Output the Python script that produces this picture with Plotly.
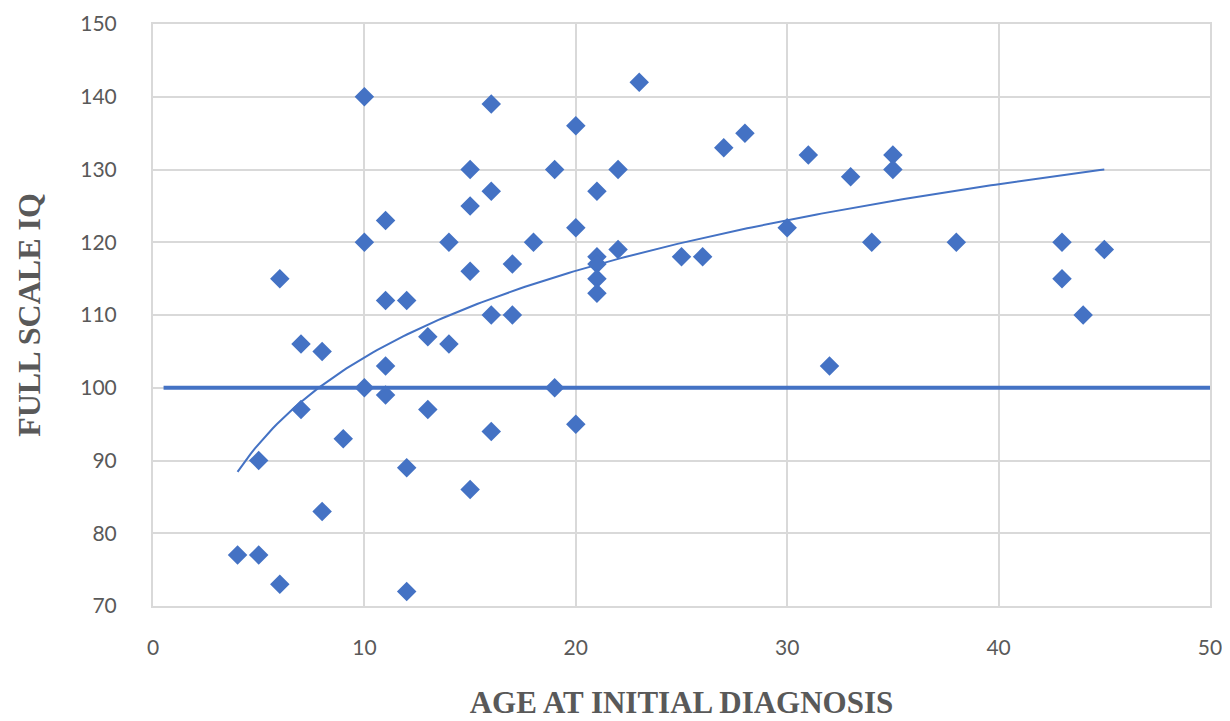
import numpy as np
import plotly.graph_objects as go

# Data
age = [4, 5, 5, 6, 6, 7, 7, 8, 8, 9,
       10, 10, 10, 11, 11, 11, 11, 12, 12, 12,
       13, 13, 14, 14, 15, 15, 15, 15, 16, 16,
       16, 16, 17, 17, 18, 19, 19, 20, 20, 20,
       21, 21, 21, 21, 21, 22, 22, 23, 25, 26,
       27, 28, 30, 31, 32, 33, 34, 35, 35, 38,
       43, 43, 44, 45]
iq = [77, 77, 90, 73, 115, 106, 97, 105, 83, 93,
      140, 120, 100, 123, 112, 103, 99, 112, 89, 72,
      107, 97, 120, 106, 130, 125, 116, 86, 139, 127,
      110, 94, 117, 110, 120, 130, 100, 136, 122, 95,
      127, 118, 117, 115, 113, 130, 119, 142, 118, 118,
      133, 135, 122, 132, 103, 129, 120, 132, 130, 120,
      120, 115, 110, 119]

ref_x = [0.5, 50]
ref_y = [100, 100]

x_ticks = [0, 10, 20, 30, 40, 50]
y_ticks = [70, 80, 90, 100, 110, 120, 130, 140, 150]

# Logarithmic trendline (least squares on ln(x))
ax = np.array(age, dtype=float)
ay = np.array(iq, dtype=float)
b, a = np.polyfit(np.log(ax), ay, 1)
tx = np.linspace(ax.min(), ax.max(), 200)
ty = a + b * np.log(tx)

blue = "#4472C4"
grid = "#D9D9D9"

fig = go.Figure()
fig.add_trace(go.Scatter(x=ref_x, y=ref_y, mode="lines",
                         line=dict(color=blue, width=4), showlegend=False,
                         hoverinfo="skip"))
fig.add_trace(go.Scatter(x=tx, y=ty, mode="lines",
                         line=dict(color=blue, width=2), showlegend=False))
fig.add_trace(go.Scatter(x=age, y=iq, mode="markers",
                         marker=dict(symbol="diamond", size=15, color=blue),
                         showlegend=False))

fig.update_layout(
    width=1230, height=721,
    margin=dict(l=145, r=28, t=16, b=123),
    paper_bgcolor="white", plot_bgcolor="white",
    font=dict(family="Lato, Noto Sans, sans-serif", color="#595959", size=21),
)
fig.update_xaxes(
    range=[0, 50], tickvals=x_ticks, showgrid=True, gridcolor=grid, gridwidth=2,
    zeroline=False, showline=True, linecolor=grid, linewidth=2, mirror=True,
    ticks="", ticklabelstandoff=22, automargin=False, ticklabeloverflow="allow",
    title=dict(text="<b>AGE AT INITIAL DIAGNOSIS</b>",
               font=dict(family="Liberation Serif, Times New Roman, serif", size=31, color="#595959"),
               standoff=33),
)
fig.update_yaxes(
    range=[70, 150], tickvals=y_ticks, showgrid=True, gridcolor=grid, gridwidth=2,
    zeroline=False, showline=True, linecolor=grid, linewidth=2, mirror=True,
    ticks="", ticklabelstandoff=30, automargin=False, ticklabeloverflow="allow",
    title=dict(text="<b>FULL SCALE IQ</b>",
               font=dict(family="Liberation Serif, Times New Roman, serif", size=32, color="#595959"),
               standoff=30),
)

fig.write_html("out.html")
